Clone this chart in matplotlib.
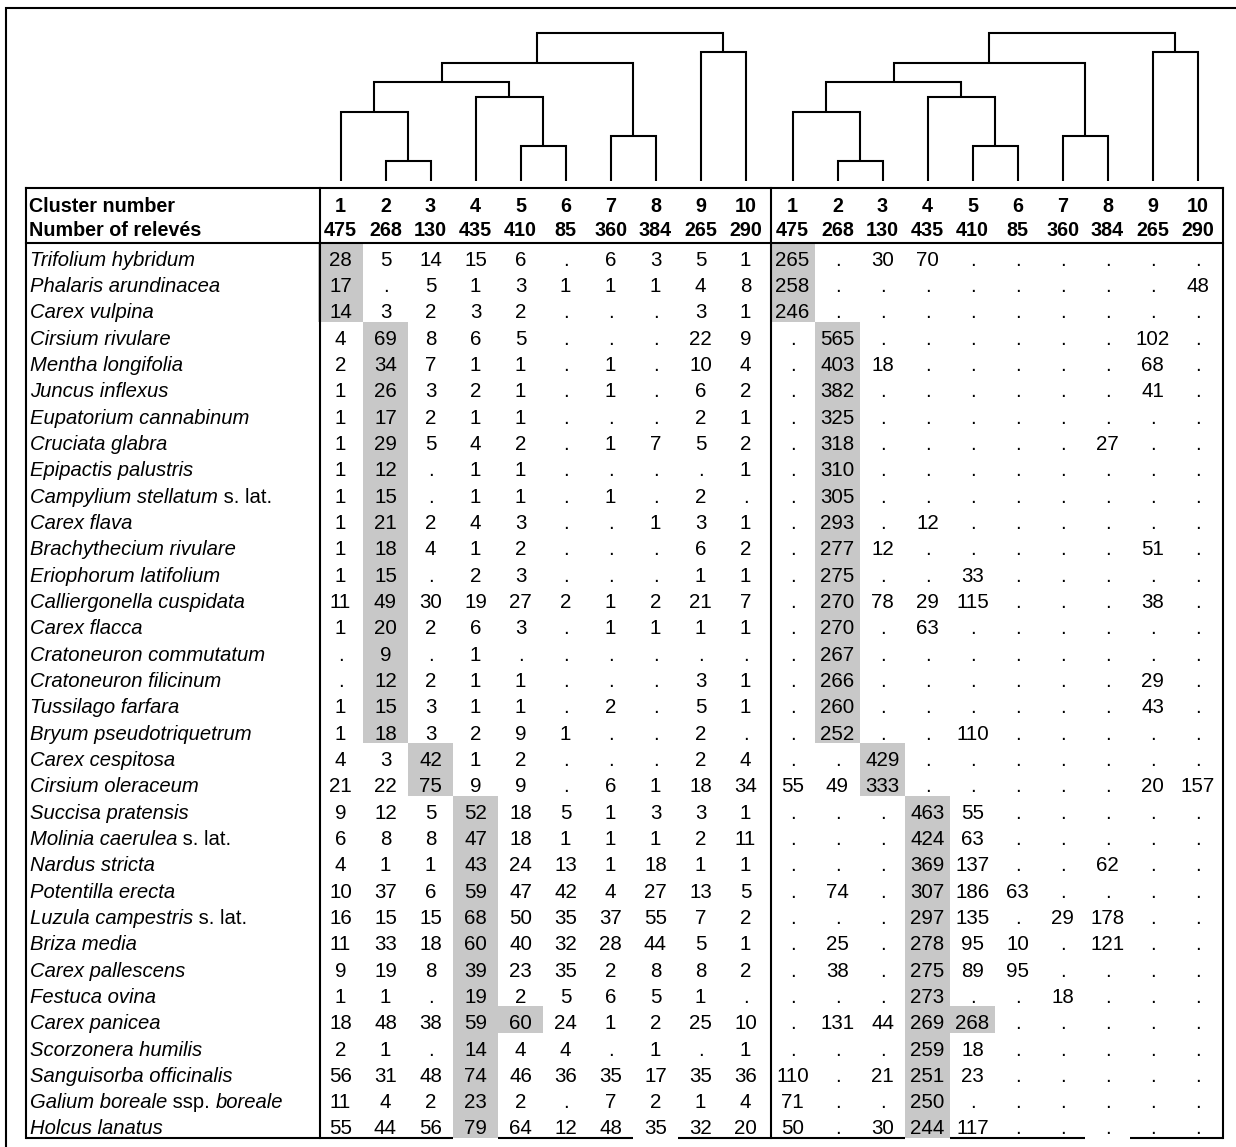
import matplotlib
matplotlib.use('Agg')
import matplotlib.pyplot as plt
from matplotlib.patches import Rectangle

plt.rcParams['font.family'] = ['Liberation Sans', 'DejaVu Sans']

clusters = list(range(1, 11))
releves = [475, 268, 130, 435, 410, 85, 360, 384, 265, 290]

# species names as (text, italic) pieces
species = [
    [('Trifolium hybridum', True)],
    [('Phalaris arundinacea', True)],
    [('Carex vulpina', True)],
    [('Cirsium rivulare', True)],
    [('Mentha longifolia', True)],
    [('Juncus inflexus', True)],
    [('Eupatorium cannabinum', True)],
    [('Cruciata glabra', True)],
    [('Epipactis palustris', True)],
    [('Campylium stellatum', True), (' s. lat.', False)],
    [('Carex flava', True)],
    [('Brachythecium rivulare', True)],
    [('Eriophorum latifolium', True)],
    [('Calliergonella cuspidata', True)],
    [('Carex flacca', True)],
    [('Cratoneuron commutatum', True)],
    [('Cratoneuron filicinum', True)],
    [('Tussilago farfara', True)],
    [('Bryum pseudotriquetrum', True)],
    [('Carex cespitosa', True)],
    [('Cirsium oleraceum', True)],
    [('Succisa pratensis', True)],
    [('Molinia caerulea', True), (' s. lat.', False)],
    [('Nardus stricta', True)],
    [('Potentilla erecta', True)],
    [('Luzula campestris', True), (' s. lat.', False)],
    [('Briza media', True)],
    [('Carex pallescens', True)],
    [('Festuca ovina', True)],
    [('Carex panicea', True)],
    [('Scorzonera humilis', True)],
    [('Sanguisorba officinalis', True)],
    [('Galium boreale', True), (' ssp. ', False), ('boreale', True)],
    [('Holcus lanatus', True)],
]

# percentage frequency per cluster ('.' = absent)
frequency = [
    "28 5 14 15 6 . 6 3 5 1",
    "17 . 5 1 3 1 1 1 4 8",
    "14 3 2 3 2 . . . 3 1",
    "4 69 8 6 5 . . . 22 9",
    "2 34 7 1 1 . 1 . 10 4",
    "1 26 3 2 1 . 1 . 6 2",
    "1 17 2 1 1 . . . 2 1",
    "1 29 5 4 2 . 1 7 5 2",
    "1 12 . 1 1 . . . . 1",
    "1 15 . 1 1 . 1 . 2 .",
    "1 21 2 4 3 . . 1 3 1",
    "1 18 4 1 2 . . . 6 2",
    "1 15 . 2 3 . . . 1 1",
    "11 49 30 19 27 2 1 2 21 7",
    "1 20 2 6 3 . 1 1 1 1",
    ". 9 . 1 . . . . . .",
    ". 12 2 1 1 . . . 3 1",
    "1 15 3 1 1 . 2 . 5 1",
    "1 18 3 2 9 1 . . 2 .",
    "4 3 42 1 2 . . . 2 4",
    "21 22 75 9 9 . 6 1 18 34",
    "9 12 5 52 18 5 1 3 3 1",
    "6 8 8 47 18 1 1 1 2 11",
    "4 1 1 43 24 13 1 18 1 1",
    "10 37 6 59 47 42 4 27 13 5",
    "16 15 15 68 50 35 37 55 7 2",
    "11 33 18 60 40 32 28 44 5 1",
    "9 19 8 39 23 35 2 8 8 2",
    "1 1 . 19 2 5 6 5 1 .",
    "18 48 38 59 60 24 1 2 25 10",
    "2 1 . 14 4 4 . 1 . 1",
    "56 31 48 74 46 36 35 17 35 36",
    "11 4 2 23 2 . 7 2 1 4",
    "55 44 56 79 64 12 48 35 32 20",
]

# fidelity (phi x 1000) per cluster ('.' = not significant)
fidelity = [
    "265 . 30 70 . . . . . .",
    "258 . . . . . . . . 48",
    "246 . . . . . . . . .",
    ". 565 . . . . . . 102 .",
    ". 403 18 . . . . . 68 .",
    ". 382 . . . . . . 41 .",
    ". 325 . . . . . . . .",
    ". 318 . . . . . 27 . .",
    ". 310 . . . . . . . .",
    ". 305 . . . . . . . .",
    ". 293 . 12 . . . . . .",
    ". 277 12 . . . . . 51 .",
    ". 275 . . 33 . . . . .",
    ". 270 78 29 115 . . . 38 .",
    ". 270 . 63 . . . . . .",
    ". 267 . . . . . . . .",
    ". 266 . . . . . . 29 .",
    ". 260 . . . . . . 43 .",
    ". 252 . . 110 . . . . .",
    ". . 429 . . . . . . .",
    "55 49 333 . . . . . 20 157",
    ". . . 463 55 . . . . .",
    ". . . 424 63 . . . . .",
    ". . . 369 137 . . 62 . .",
    ". 74 . 307 186 63 . . . .",
    ". . . 297 135 . 29 178 . .",
    ". 25 . 278 95 10 . 121 . .",
    ". 38 . 275 89 95 . . . .",
    ". . . 273 . . 18 . . .",
    ". 131 44 269 268 . . . . .",
    ". . . 259 18 . . . . .",
    "110 . 21 251 23 . . . . .",
    "71 . . 250 . . . . . .",
    "50 . 30 244 117 . . . . .",
]

# cluster each species is diagnostic for (shaded), plus extra shaded cells
diagnostic = [1, 1, 1] + [2] * 16 + [3, 3] + [4] * 13
extra_shade = {'Carex panicea': 5}

# dendrogram merges: (node a, node b, distance); leaves are 0..9
merges = [
    (1, 2, 20),
    (4, 5, 35),
    (6, 7, 45),
    (0, 10, 69),
    (3, 11, 84),
    (13, 14, 99),
    (15, 12, 118),
    (8, 9, 129),
    (16, 17, 148),
]

# columns of the bottom rule that are left open
open_bottom = [4, 8]

fig = plt.figure(figsize=(12.36, 11.47), dpi=100)
ax = fig.add_axes([0, 0, 1, 1])
ax.set_xlim(0, 1236)
ax.set_ylim(1147, 0)
ax.axis('off')

# layout in pixels
tab_left, tab_right = 26, 1223
name_right, divider = 320, 771
tab_top, head_bottom, tab_bottom = 188, 243, 1138
col_w = 45
block_x0 = [318, 770]
row_h = (tab_bottom - head_bottom) / len(species)
shade = '#C8C8C8'
lw = 1.5
fs_data, fs_name, fs_head = 14.8, 14.6, 14.2


def col_center(block, c):
    return block_x0[block] + col_w * (c - 0.5)


def draw_dendrogram(block, base_y=181):
    pos = {i: (col_center(block, i + 1), 0) for i in range(len(clusters))}
    for k, (a, b, h) in enumerate(merges):
        xa, ha = pos[a]
        xb, hb = pos[b]
        ax.plot([xa, xa, xb, xb], [base_y - ha, base_y - h, base_y - h, base_y - hb],
                color='black', lw=lw, solid_joinstyle='miter', solid_capstyle='butt')
        pos[len(clusters) + k] = ((xa + xb) / 2, h)


# shaded cells
for r, name in enumerate(species):
    cols = [diagnostic[r]]
    full = ''.join(t for t, _ in name)
    if full in extra_shade:
        cols.append(extra_shade[full])
    y0 = head_bottom + r * row_h
    for block in range(2):
        for c in cols:
            ax.add_patch(Rectangle((block_x0[block] + col_w * (c - 1), y0), col_w, row_h + 0.3,
                                   facecolor=shade, edgecolor='none', zorder=1))

# header rows
y_h1, y_h2 = 212, 236
ax.text(29, y_h1, 'Cluster number', fontsize=fs_head, fontweight='bold', va='baseline', zorder=3)
ax.text(29, y_h2, 'Number of relevés', fontsize=fs_head, fontweight='bold', va='baseline', zorder=3)
for block in range(2):
    for c, n in zip(clusters, releves):
        x = col_center(block, c)
        ax.text(x, y_h1, str(c), fontsize=fs_head, fontweight='bold', ha='center', va='baseline', zorder=3)
        ax.text(x, y_h2, str(n), fontsize=fs_head, fontweight='bold', ha='center', va='baseline', zorder=3)

# species names, italic with roman qualifiers
renderer = fig.canvas.get_renderer()
for r, name in enumerate(species):
    yb = head_bottom + (r + 1) * row_h - 3.5
    x = 30
    for text, italic in name:
        t = ax.text(x, yb, text, fontsize=fs_name, style='italic' if italic else 'normal',
                    va='baseline', zorder=3)
        bb = t.get_window_extent(renderer)
        x += bb.width

# values
for block, table in enumerate([frequency, fidelity]):
    for r, row in enumerate(table):
        yb = head_bottom + (r + 1) * row_h - 3.5
        for c, v in enumerate(row.split(), start=1):
            ax.text(col_center(block, c), yb, v, fontsize=fs_data, ha='center', va='baseline', zorder=3)

# dendrograms
draw_dendrogram(0)
draw_dendrogram(1)

# table rules
line = dict(color='black', lw=lw, solid_capstyle='projecting', zorder=4)
ax.plot([tab_left, tab_right], [tab_top, tab_top], **line)
ax.plot([tab_left, tab_right], [head_bottom, head_bottom], **line)
for x in [tab_left, name_right, divider, tab_right]:
    ax.plot([x, x], [tab_top, tab_bottom], **line)

# bottom rule, interrupted under some columns
edges = [tab_left]
for block in range(2):
    for c in open_bottom:
        x0 = block_x0[block] + col_w * (c - 1)
        edges += [x0, x0 + col_w]
edges.append(tab_right)
for x0, x1 in zip(edges[::2], edges[1::2]):
    ax.plot([x0, x1], [tab_bottom, tab_bottom], color='black', lw=lw, solid_capstyle='butt', zorder=4)

# outer frame
ax.plot([6, 6, 1240], [1150, 8, 8], color='black', lw=lw, solid_joinstyle='miter', zorder=4)

fig.savefig('out.png', dpi=100)
